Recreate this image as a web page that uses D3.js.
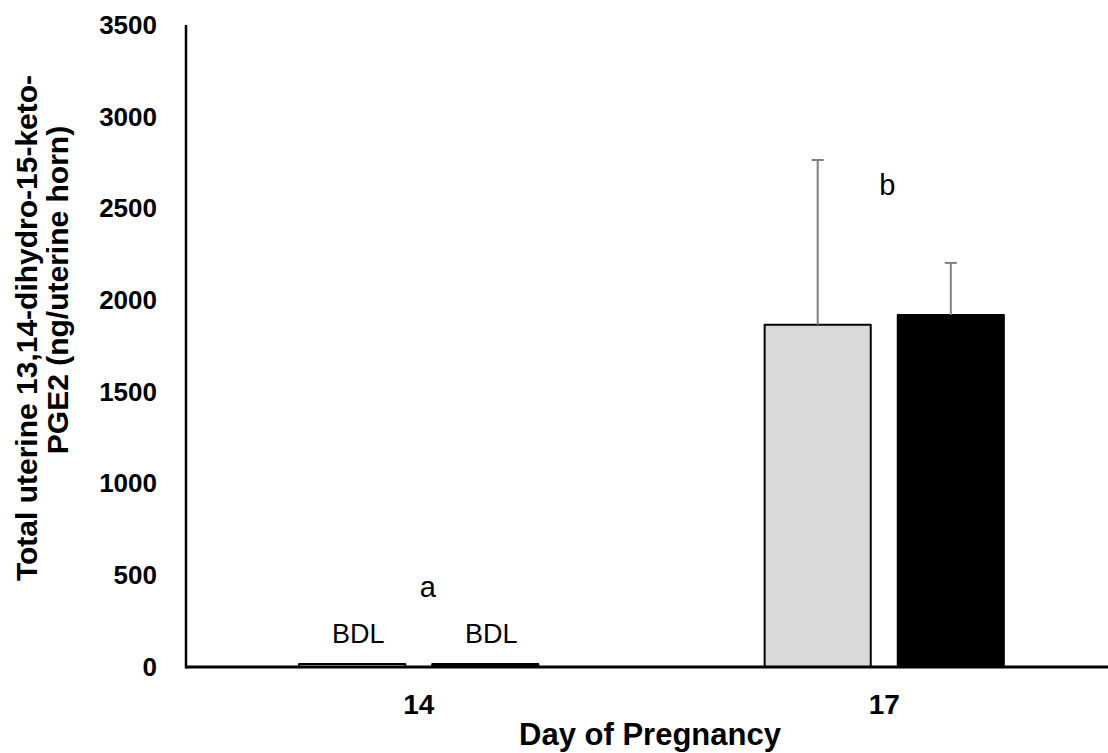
<!DOCTYPE html>
<html>
<head>
<meta charset="utf-8">
<script src="https://cdn.jsdelivr.net/npm/d3@7"></script>
<style>
  html, body { margin: 0; padding: 0; background: #fff; }
  svg { display: block; font-family: "Liberation Sans", Arial, sans-serif; }
</style>
</head>
<body>
<svg id="chart" width="1108" height="753"></svg>
<script>
// Day of pregnancy groups and the two treatment series
const days = ["14", "17"];
const seriesNames = ["grey", "black"];
const greyValues = [16, 1866];
const blackValues = [16, 1919];
const greyErrors = [0, 898];
const blackErrors = [0, 284];
const yTicks = [0, 500, 1000, 1500, 2000, 2500, 3000, 3500];
const bdlLabels = ["BDL", "BDL"];
const groupLetters = ["a", "b"];

const svg = d3.select("#chart");
const plotLeft = 186, plotRight = 1117, plotTop = 25, plotBottom = 667;

const x0 = d3.scaleBand().domain(days).range([plotLeft, plotRight]).paddingInner(0).paddingOuter(0);
const x1 = d3.scaleBand().domain(seriesNames).range([0, x0.bandwidth()])
  .paddingInner(0.203).paddingOuter(0.85);
const y = d3.scaleLinear().domain([0, 3500]).range([plotBottom, plotTop]);

const fills = { grey: "#d9d9d9", black: "#000000" };

const rows = days.map((d, i) => ({
  day: d,
  bars: [
    { s: "grey", v: greyValues[i], e: greyErrors[i] },
    { s: "black", v: blackValues[i], e: blackErrors[i] }
  ]
}));

// bars
const g = svg.append("g");
const groups = g.selectAll("g.day").data(rows).join("g")
  .attr("class", "day")
  .attr("transform", d => `translate(${x0(d.day)},0)`);

groups.selectAll("rect").data(d => d.bars).join("rect")
  .attr("x", d => x1(d.s))
  .attr("width", x1.bandwidth())
  .attr("y", d => y(d.v))
  .attr("height", d => y(0) - y(d.v))
  .attr("fill", d => fills[d.s])
  .attr("stroke", "#000")
  .attr("stroke-width", 2)
  .attr("stroke-linejoin", "round");

// error bars (upper only)
const eb = groups.selectAll("g.err").data(d => d.bars.filter(b => b.e > 0)).join("g").attr("class", "err");
eb.append("line")
  .attr("x1", d => x1(d.s) + x1.bandwidth() / 2)
  .attr("x2", d => x1(d.s) + x1.bandwidth() / 2)
  .attr("y1", d => y(d.v))
  .attr("y2", d => y(d.v + d.e))
  .attr("stroke", "#7f7f7f").attr("stroke-width", 2);
eb.append("line")
  .attr("x1", d => x1(d.s) + x1.bandwidth() / 2 - 6)
  .attr("x2", d => x1(d.s) + x1.bandwidth() / 2 + 6)
  .attr("y1", d => y(d.v + d.e))
  .attr("y2", d => y(d.v + d.e))
  .attr("stroke", "#7f7f7f").attr("stroke-width", 2);

// axes
const yAxis = d3.axisLeft(y).tickValues(yTicks).tickFormat(d3.format("d")).tickSize(0).tickPadding(29);
const ya = svg.append("g").attr("transform", `translate(${plotLeft},0)`).call(yAxis);
ya.select(".domain").remove();
ya.selectAll("text").attr("font-size", 26).attr("font-weight", "bold")
  .attr("font-family", "Liberation Sans, Arial, sans-serif").attr("fill", "#000");

const xAxis = d3.axisBottom(x0).tickSize(0).tickPadding(27);
const xa = svg.append("g").attr("transform", `translate(0,${plotBottom})`).call(xAxis);
xa.select(".domain").remove();
xa.selectAll("text").attr("font-size", 28).attr("font-weight", "bold")
  .attr("font-family", "Liberation Sans, Arial, sans-serif").attr("fill", "#000");

svg.append("line").attr("x1", plotLeft).attr("x2", plotLeft).attr("y1", plotTop).attr("y2", plotBottom + 1.5)
  .attr("stroke", "#000").attr("stroke-width", 2.5);
svg.append("line").attr("x1", plotLeft).attr("x2", 1108).attr("y1", plotBottom).attr("y2", plotBottom)
  .attr("stroke", "#000").attr("stroke-width", 3);

// annotations
groups.filter((d, i) => i === 0).selectAll("text.bdl").data(bdlLabels).join("text")
  .attr("class", "bdl")
  .attr("x", (d, i) => x1(seriesNames[i]) + x1.bandwidth() / 2 + 6)
  .attr("y", y(0) - 24)
  .attr("text-anchor", "middle").attr("font-size", 27).text(d => d);

svg.append("text").attr("x", x0("14") + x0.bandwidth() / 2 + 9).attr("y", y(380))
  .attr("text-anchor", "middle").attr("font-size", 29).text(groupLetters[0]);
svg.append("text").attr("x", x0("17") + x0.bandwidth() / 2 + 3).attr("y", y(2575))
  .attr("text-anchor", "middle").attr("font-size", 29).text(groupLetters[1]);

// axis titles
svg.append("text").attr("x", 650).attr("y", 745)
  .attr("text-anchor", "middle").attr("font-size", 31).attr("font-weight", "bold")
  .text("Day of Pregnancy");

const yt = svg.append("text").attr("transform", "rotate(-90)")
  .attr("text-anchor", "middle").attr("font-size", 30).attr("font-weight", "bold");
yt.append("tspan").attr("x", -328).attr("y", 37).text("Total uterine 13,14-dihydro-15-keto-");
yt.append("tspan").attr("x", -290).attr("y", 68).text("PGE2 (ng/uterine horn)");
</script>
</body>
</html>
